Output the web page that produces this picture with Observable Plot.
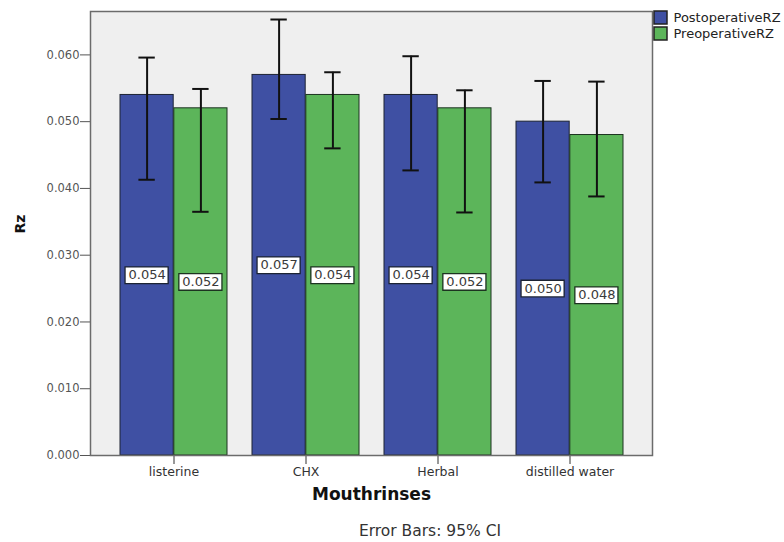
<!DOCTYPE html>
<html>
<head>
<meta charset="utf-8">
<script src="https://cdn.jsdelivr.net/npm/d3@7"></script>
<script src="https://cdn.jsdelivr.net/npm/@observablehq/plot@0.6"></script>
<style>
  body { margin: 0; background: #fff; }
  #wrap { position: relative; width: 784px; height: 542px; font-family: "DejaVu Sans", sans-serif; overflow: hidden; }
  #legend { position: absolute; left: 654px; top: 10px; }
  #legend svg rect { stroke: #222; stroke-width: 1.5px; }
  #caption { position: absolute; left: 0; width: 860px; top: 522px; text-align: center; font-size: 15.5px; color: #333; }
</style>
</head>
<body>
<div id="wrap">
  <div id="chart"></div>
  <div id="legend"></div>
  <div id="caption"></div>
</div>
<script>
// ---- data ----
const categories = ["listerine", "CHX", "Herbal", "distilled water"];
const series = ["PostoperativeRZ", "PreoperativeRZ"];
const postValues = [0.054, 0.057, 0.054, 0.050];
const preValues  = [0.052, 0.054, 0.052, 0.048];
const postLow  = [0.0413, 0.0504, 0.0427, 0.0409];
const postHigh = [0.0596, 0.0653, 0.0598, 0.0561];
const preLow   = [0.0365, 0.0460, 0.0364, 0.0388];
const preHigh  = [0.0549, 0.0574, 0.0547, 0.0560];
const yTicks = [0, 0.01, 0.02, 0.03, 0.04, 0.05, 0.06];
const colors = ["#3f50a3", "#5cb55a"];
const xLabel = "Mouthrinses";
const yLabel = "Rz";
const captionText = "Error Bars: 95% CI";

// ---- layout ----
const width = 784, height = 512;
const marginLeft = 90, marginRight = 132, marginTop = 11, marginBottom = 57;
const padInner = 0.19, padOuter = 0.21;

const rows = categories.flatMap((c, i) => [
  {cat: c, series: series[0], value: postValues[i], low: postLow[i], high: postHigh[i]},
  {cat: c, series: series[1], value: preValues[i], low: preLow[i], high: preHigh[i]}
]);
const post = rows.filter(d => d.series === series[0]);
const pre = rows.filter(d => d.series === series[1]);

const bw = d3.scaleBand().domain(categories)
  .range([marginLeft, width - marginRight])
  .paddingInner(padInner).paddingOuter(padOuter).bandwidth();
const q = bw / 4;
const capHalf = 8.5, boxHalf = 22.5;

function seriesMarks(data, side, color, edge) {
  const inL = side < 0 ? 0 : bw / 2, inR = side < 0 ? bw / 2 : 0;
  const cL = side < 0 ? q : 3 * q, cR = side < 0 ? 3 * q : q;
  return [
    Plot.barY(data, {x: "cat", y: "value", fill: color, stroke: edge, strokeWidth: 1, insetLeft: inL, insetRight: inR}),
    Plot.ruleX(data, {x: "cat", y1: "low", y2: "high", dx: side * q, stroke: "#111", strokeWidth: 2}),
    Plot.tickY(data, {x: "cat", y: "high", insetLeft: cL - capHalf, insetRight: cR - capHalf, stroke: "#111", strokeWidth: 2}),
    Plot.tickY(data, {x: "cat", y: "low", insetLeft: cL - capHalf, insetRight: cR - capHalf, stroke: "#111", strokeWidth: 2}),
    Plot.tickY(data, {x: "cat", y: d => d.value / 2, insetLeft: cL - boxHalf, insetRight: cR - boxHalf, stroke: edge, strokeWidth: 18}),
    Plot.tickY(data, {x: "cat", y: d => d.value / 2, insetLeft: cL - boxHalf + 1.3, insetRight: cR - boxHalf + 1.3, stroke: "#ffffff", strokeWidth: 15.4}),
    Plot.text(data, {x: "cat", y: d => d.value / 2, dx: side * q, text: d => d.value.toFixed(3), fontSize: 13, fill: "#3a3a3a"})
  ];
}

const chart = Plot.plot({
  width, height, marginLeft, marginRight, marginTop, marginBottom,
  style: {fontFamily: "DejaVu Sans, sans-serif", background: "#fff"},
  x: {type: "band", domain: categories, paddingInner: padInner, paddingOuter: padOuter},
  y: {domain: [0, 0.0665]},
  marks: [
    Plot.frame({fill: "#efefef"}),
    ...seriesMarks(post, -1, colors[0], "#1c2333"),
    ...seriesMarks(pre, 1, colors[1], "#1c3320"),
    Plot.axisY(yTicks, {tickFormat: ".3f", tickSize: 10, tickPadding: 1, fontSize: 11.5, color: "#555", label: null}),
    Plot.axisX({tickSize: 9, tickPadding: 3, fontSize: 12.5, color: "#333", label: null}),
    Plot.text([yLabel], {frameAnchor: "left", dx: -70, rotate: -90, text: d => d, fontWeight: "bold", fontSize: 14, fill: "#111"}),
    Plot.text([xLabel], {frameAnchor: "bottom", dy: 44, text: d => d, fontWeight: "bold", fontSize: 17, fill: "#111"}),
    Plot.frame({stroke: "#6b6b6b", strokeWidth: 1.5})
  ]
});
document.getElementById("chart").appendChild(chart);

const legend = Plot.legend({
  color: {type: "ordinal", domain: series, range: colors},
  legend: "swatches",
  columns: 1,
  swatchSize: 13,
  style: {fontSize: "13px", fontFamily: "DejaVu Sans, sans-serif", color: "#222"}
});
document.getElementById("legend").appendChild(legend);
document.getElementById("caption").textContent = captionText;
</script>
</body>
</html>
